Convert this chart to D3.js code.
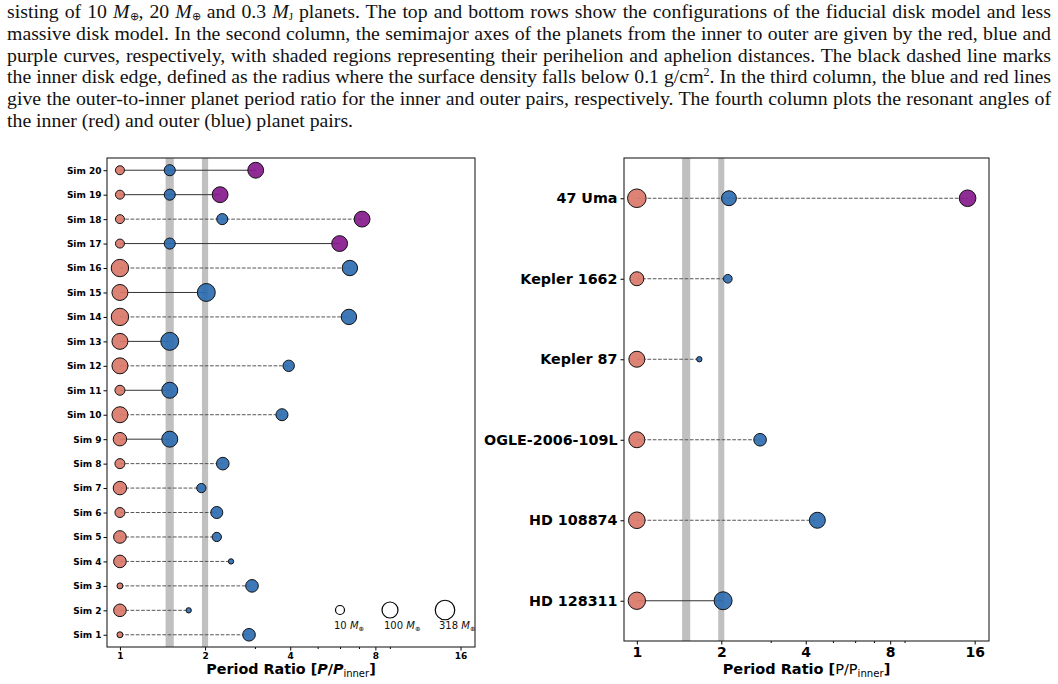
<!DOCTYPE html>
<html>
<head>
<meta charset="utf-8">
<script src="https://cdn.jsdelivr.net/npm/d3@7"></script>
<style>
  body { margin: 0; background: #fff; width: 1058px; height: 684px; overflow: hidden; position: relative; }
  #caption { position: absolute; left: 7px; top: 1px; width: 1044px; font-family: "Liberation Serif", "Times New Roman", serif;
             font-size: 19.8px; line-height: 21.8px; color: #111; }
  #caption div { text-align: justify; text-align-last: justify; white-space: nowrap; height: 21.8px; }
  #caption div.last { text-align-last: left; }
  #caption sub { font-size: 11px; line-height: 0; vertical-align: -2px; }
  #caption sup { font-size: 12px; line-height: 0; vertical-align: 7px; }
  svg { position: absolute; left: 0; top: 0; }
  .axis text { font-family: "DejaVu Sans", sans-serif; font-weight: bold; fill: #000; }
  .axis path { display: none; }
  .axis line { stroke: #000; }
</style>
</head>
<body>
<div id="caption">
  <div>sisting of 10 <i>M</i><sub>⊕</sub>, 20 <i>M</i><sub>⊕</sub> and 0.3 <i>M</i><sub>J</sub> planets. The top and bottom rows show the configurations of the fiducial disk model and less</div>
  <div>massive disk model. In the second column, the semimajor axes of the planets from the inner to outer are given by the red, blue and</div>
  <div>purple curves, respectively, with shaded regions representing their perihelion and aphelion distances. The black dashed line marks</div>
  <div>the inner disk edge, defined as the radius where the surface density falls below 0.1 g/cm<sup>2</sup>. In the third column, the blue and red lines</div>
  <div>give the outer-to-inner planet period ratio for the inner and outer pairs, respectively. The fourth column plots the resonant angles of</div>
  <div class="last">the inner (red) and outer (blue) planet pairs.</div>
</div>
<script>
// ---- data ----
// simulations, bottom (Sim 1) to top (Sim 20)
var simNames = ["Sim 1","Sim 2","Sim 3","Sim 4","Sim 5","Sim 6","Sim 7","Sim 8","Sim 9","Sim 10",
                "Sim 11","Sim 12","Sim 13","Sim 14","Sim 15","Sim 16","Sim 17","Sim 18","Sim 19","Sim 20"];
var simRatios = [[1,2.86],[1,1.75],[1,2.93],[1,2.47],[1,2.20],[1,2.20],[1,1.94],[1,2.31],[1,1.50],[1,3.74],
                 [1,1.50],[1,3.95],[1,1.50],[1,6.45],[1,2.02],[1,6.50],[1,1.50,5.98],[1,2.30,7.18],[1,1.50,2.26],[1,1.50,3.02]];
var simMasses = [[3.7,33],[33,3],[3.7,33],[33,3],[33,11],[14,27],[44,11],[14,33],[44,100],[100,27],
                 [14,100],[100,22],[100,190],[158,82],[100,190],[158,82],[10,20,95],[10,20,95],[10,20,95],[10,20,95]];
var simResonant = [false,false,false,false,false,false,false,false,true,false,
                   true,false,true,false,true,false,true,false,true,true];

// observed systems, top to bottom
var sysNames = ["47 Uma","Kepler 1662","Kepler 87","OGLE-2006-109L","HD 108874","HD 128311"];
var sysRatios = [[1,2.13,15.1],[1,2.11],[1,1.67],[1,2.75],[1,4.40],[1,2.03]];
var sysMasses = [[235,70,123],[52,9],[100,3],[100,33],[123,100],[158,190]];
var sysResonant = [false,false,false,false,false,true];

// resonance bands (3:2 and 2:1)
var bands = [[1.45,1.55],[1.95,2.05]];
var majorTicks = [1,2,4,8,16];
var minorTicks = [3,5,6,7,9];
var legendMasses = [10,100,318];
var legendLabels = ["10","100","318"];

var planetColors = ["#d9786a","#2f6db1","#871a8c"];

var svg = d3.select("body").append("svg").attr("width",1058).attr("height",684);

// marker radius from mass
var rScale = d3.scaleLog().domain([10,100]).range([4.5,8]);

function drawPanel(box, names, ratios, masses, resonant, opt) {
  var g = svg.append("g");
  var x = d3.scaleLog().domain([0.9,18]).range([box.x0, box.x1]);
  var y = d3.scalePoint().domain(names).range([box.y0, box.y1]).padding(0.5);

  var clipId = "clip" + opt.id;
  svg.append("clipPath").attr("id", clipId).append("rect")
    .attr("x", box.x0).attr("y", box.y0).attr("width", box.x1 - box.x0).attr("height", box.y1 - box.y0);

  var plot = g.append("g").attr("clip-path","url(#" + clipId + ")");

  plot.selectAll(".band").data(bands).enter().append("rect")
    .attr("x", function(d){ return x(d[0]); })
    .attr("width", function(d){ return x(d[1]) - x(d[0]); })
    .attr("y", box.y0).attr("height", box.y1 - box.y0)
    .attr("fill", "#c0c0c0");

  // connecting lines
  plot.selectAll(".conn").data(names).enter().append("line")
    .attr("x1", function(d,i){ return x(ratios[i][0]); })
    .attr("x2", function(d,i){ return x(ratios[i][ratios[i].length-1]); })
    .attr("y1", function(d){ return y(d); })
    .attr("y2", function(d){ return y(d); })
    .attr("stroke", function(d,i){ return resonant[i] ? "#333" : "#555"; })
    .attr("stroke-width", 1)
    .attr("stroke-dasharray", function(d,i){ return resonant[i] ? null : "3.7,1.6"; });

  // planets
  var pts = [];
  names.forEach(function(n,i){
    ratios[i].forEach(function(r,j){ pts.push({name:n, ratio:r, mass:masses[i][j], k:j}); });
  });
  plot.selectAll(".planet").data(pts).enter().append("circle")
    .attr("cx", function(d){ return x(d.ratio); })
    .attr("cy", function(d){ return y(d.name); })
    .attr("r", function(d){ return rScale(d.mass); })
    .attr("fill", function(d){ return planetColors[d.k]; })
    .attr("fill-opacity", 0.92)
    .attr("stroke", "#111").attr("stroke-width", 1);

  if (opt.legend) {
    var lg = plot.selectAll(".lg").data(legendMasses).enter().append("g");
    lg.append("circle")
      .attr("cx", function(d,i){ return opt.legend.x[i]; })
      .attr("cy", opt.legend.y)
      .attr("r", function(d){ return rScale(d); })
      .attr("fill", "none").attr("stroke", "#000").attr("stroke-width", 1.2);
    var t = lg.append("text")
      .attr("x", function(d,i){ return opt.legend.x[i] - 6; })
      .attr("y", opt.legend.y + 19)
      .attr("font-family", "DejaVu Sans, sans-serif").attr("font-size", 10).attr("fill", "#111");
    t.append("tspan").text(function(d,i){ return legendLabels[i] + " "; });
    t.append("tspan").attr("font-style","italic").text("M");
    t.append("tspan").attr("font-size", 6.5).attr("dy", 2).text("⊕");
  }

  // axes
  var xa = g.append("g").attr("class","axis")
    .attr("transform","translate(0," + box.y1 + ")")
    .call(d3.axisBottom(x).tickValues(majorTicks).tickFormat(d3.format("d")).tickSize(3.5).tickPadding(opt.xPad));
  xa.selectAll("text").attr("font-size", opt.tickFont);
  g.append("g").attr("class","axis")
    .attr("transform","translate(0," + box.y1 + ")")
    .call(d3.axisBottom(x).tickValues(minorTicks).tickFormat("").tickSize(2));
  var ya = g.append("g").attr("class","axis")
    .attr("transform","translate(" + box.x0 + ",0)")
    .call(d3.axisLeft(y).tickSize(3.5).tickPadding(opt.yPad));
  ya.selectAll("text").attr("font-size", opt.yFont);

  g.append("rect").attr("x", box.x0).attr("y", box.y0)
    .attr("width", box.x1 - box.x0).attr("height", box.y1 - box.y0)
    .attr("fill","none").attr("stroke","#222").attr("stroke-width",1.1);

  // x label
  var lab = g.append("text")
    .attr("x", (box.x0 + box.x1) / 2).attr("y", opt.labelY)
    .attr("text-anchor","middle")
    .attr("font-family","DejaVu Sans, sans-serif").attr("font-weight","bold")
    .attr("font-size", opt.labelFont).attr("fill","#000");
  lab.append("tspan").text("Period Ratio [");
  lab.append("tspan").attr("font-style", opt.italicP ? "italic" : "normal").attr("font-weight", opt.italicP ? "bold" : "normal").text("P");
  lab.append("tspan").attr("font-weight", opt.italicP ? "bold" : "normal").text("/");
  lab.append("tspan").attr("font-style", opt.italicP ? "italic" : "normal").attr("font-weight", opt.italicP ? "bold" : "normal").text("P");
  lab.append("tspan").attr("font-weight","normal").attr("font-size", opt.labelFont * 0.7).attr("dy", opt.labelFont * 0.2).text("inner");
  lab.append("tspan").attr("dy", -opt.labelFont * 0.2).text("]");
}

drawPanel({x0:107, x1:475, y0:158, y1:647}, simNames.slice().reverse(),
  simRatios.slice().reverse(), simMasses.slice().reverse(), simResonant.slice().reverse(),
  {id:"L", xPad:2, tickFont:9, yFont:9, yPad:2, labelFont:14.3, labelY:674, italicP:true,
   legend:{x:[340,390,445], y:610}});

drawPanel({x0:624, x1:989, y0:158, y1:641}, sysNames, sysRatios, sysMasses, sysResonant,
  {id:"R", xPad:3, tickFont:14, yFont:14.3, yPad:3, labelFont:14.5, labelY:674, italicP:false});
</script>
</body>
</html>
